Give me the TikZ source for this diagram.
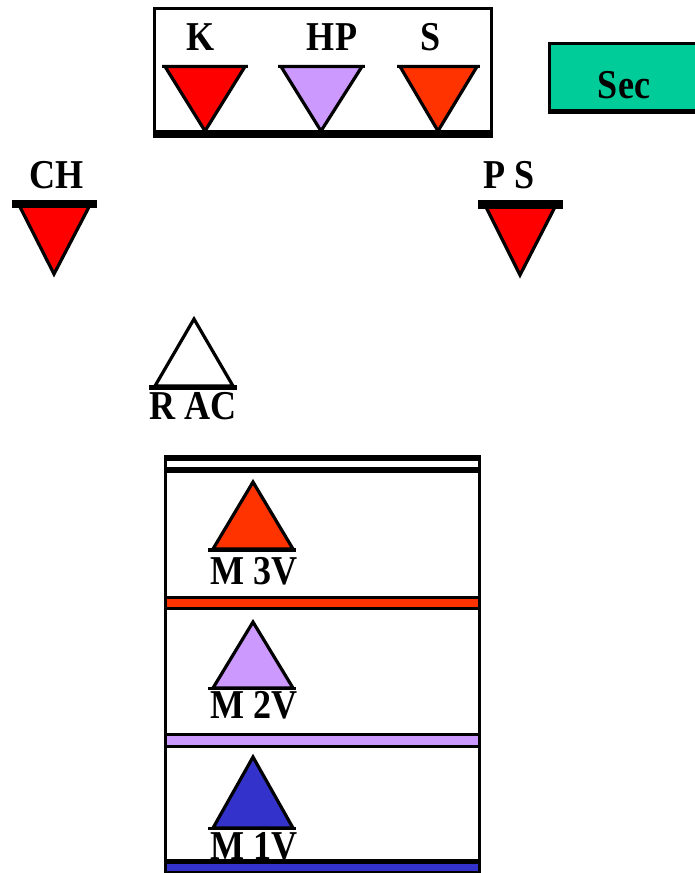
\documentclass[tikz,border=0pt]{standalone}
\usepackage{fontspec}
\setmainfont{Liberation Serif}
\newfontfamily\labfont[FakeStretch=0.88]{Liberation Serif}
\definecolor{kred}{HTML}{FF0000}
\definecolor{sred}{HTML}{FF3300}
\definecolor{lilac}{HTML}{CC99FF}
\definecolor{mblue}{HTML}{3333CC}
\definecolor{secgreen}{HTML}{00CC99}
\tikzset{
  lab/.style={font=\labfont\bfseries\fontsize{41}{41}\selectfont, inner sep=0pt, anchor=base},
  tri/.style={draw=black, line width=3.2pt, line join=miter},
  edge3/.style={line width=3pt}
}
\begin{document}
\begin{tikzpicture}[x=1pt,y=-1pt]
\useasboundingbox (0,0) rectangle (695,873);
\fill[white] (0,0) rectangle (695,873);
% ---- top box
\draw[edge3] (154.5,8.5) rectangle (491.5,134);
\fill (153,130) rectangle (493,138);
\filldraw[tri, fill=kred] (165,66.5) -- (245,66.5) -- (205,131) -- cycle;
\draw[edge3] (162,66.5) -- (248,66.5);
\filldraw[tri, fill=lilac] (281,66.5) -- (362,66.5) -- (321,131) -- cycle;
\draw[edge3] (278,66.5) -- (365,66.5);
\filldraw[tri, fill=sred] (400,66.5) -- (477,66.5) -- (438,131) -- cycle;
\draw[edge3] (397,66.5) -- (480,66.5);
\node[lab] (k) at (201,50) {K};
\node[lab] (hp) at (332,50) {H\kern1pt P};
\node[lab] (s) at (431,50) {S};
% ---- Sec
\fill[secgreen] (548,42) rectangle (695,114);
\fill (548,42) rectangle (695,45);
\fill (548,42) rectangle (551,114);
\fill (548,109) rectangle (695,114);
\node[lab] (sec) at (624,98) {Sec};
% ---- CH
\filldraw[tri, fill=kred] (19,205) -- (90,205) -- (54,274) -- cycle;
\fill (12,200) rectangle (97,208);
\node[lab] (ch) at (57,188) {CH};
% ---- PS
\filldraw[tri, fill=kred] (485,205) -- (556,205) -- (520,275) -- cycle;
\fill (478,200) rectangle (563,209);
\node[lab] (ps) at (509,188) {P S};
% ---- RAC
\filldraw[tri, fill=white] (155,386) -- (233,386) -- (194,319) -- cycle;
\fill (149,385) rectangle (237,390);
\node[lab] (rac) at (193,419) {R AC};
% ---- lower stack
\fill (164,455) rectangle (167,873);
\fill (478,455) rectangle (481,873);
\fill (164,455) rectangle (481,461);
\fill (164,467) rectangle (481,473);
\fill (164,596) rectangle (481,610);
\fill[sred] (167,599) rectangle (478,607);
\fill (164,733) rectangle (481,748);
\fill[lilac] (167,736) rectangle (478,745);
% M3V
\filldraw[tri, fill=sred] (213,549) -- (293,549) -- (253,482) -- cycle;
\fill (208,548) rectangle (296,552);
\node[lab] (m3) at (254,584) {M 3V};
% M2V
\filldraw[tri, fill=lilac] (213,688) -- (293,688) -- (253,622) -- cycle;
\fill (208,687) rectangle (296,690);
\node[lab] (m2) at (254,718) {M 2V};
% M1V
\filldraw[tri, fill=mblue] (213,828) -- (293,828) -- (253,757) -- cycle;
\fill (208,827) rectangle (296,830);
\node[lab] (m1) at (254,859) {M 1V};
\fill (164,859) rectangle (481,873);
\fill[mblue] (167,864) rectangle (478,871);
\end{tikzpicture}
\end{document}
